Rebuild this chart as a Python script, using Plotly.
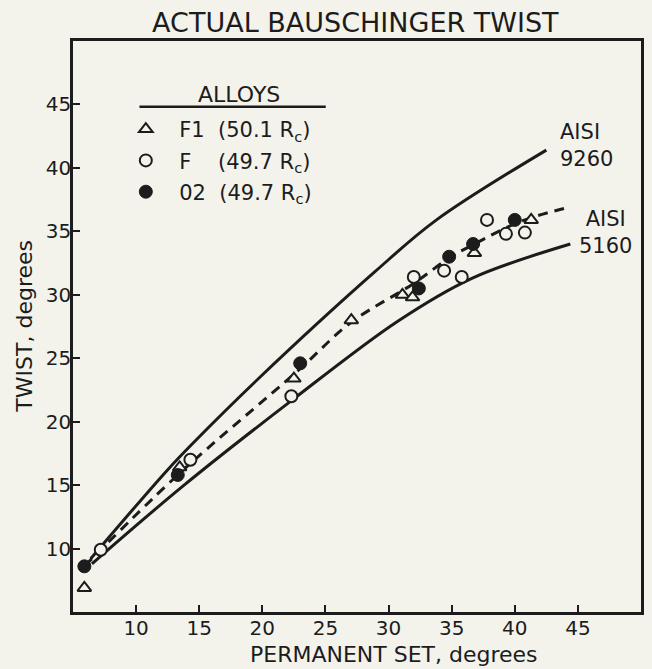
import plotly.graph_objects as go

# alloy test points (permanent set, twist in degrees)
f1_set = [5.9, 13.45, 22.5, 27.05, 31.1, 31.9, 36.8, 41.3]
f1_twist = [6.9, 16.4, 23.4, 28.0, 30.0, 29.8, 33.3, 35.9]

f_set = [7.2, 14.3, 22.3, 32.0, 34.4, 35.8, 37.8, 39.3, 40.8]
f_twist = [9.9, 17.0, 22.0, 31.4, 31.9, 31.4, 35.9, 34.8, 34.9]

o2_set = [5.9, 13.3, 23.0, 32.4, 34.8, 36.7, 40.0]
o2_twist = [8.6, 15.8, 24.6, 30.5, 33.0, 34.0, 35.9]

# reference curves
aisi9260_set = [6.4, 12.4, 14.4, 19.7, 28.9, 33.8, 42.5]
aisi9260_twist = [9.2, 16.1, 18.2, 23.4, 31.8, 35.9, 41.4]

aisi5160_set = [6.5, 13.8, 22.1, 30.7, 36.6, 44.4]
aisi5160_twist = [8.8, 15.0, 21.5, 27.9, 31.3, 34.0]

# dashed fit through the alloy data
fit_set = [5.9, 13.3, 22.8, 27.0, 32.0, 34.8, 36.8, 40.5, 43.9]
fit_twist = [8.6, 15.8, 24.0, 27.8, 30.9, 32.9, 34.0, 35.8, 36.8]

ticks = [10, 15, 20, 25, 30, 35, 40, 45]

BG = "#f3f3ec"
INK = "#1c1c1c"
FONT = "DejaVu Sans"
SP = "&nbsp;"

fig = go.Figure()

fig.add_trace(go.Scatter(x=aisi9260_set, y=aisi9260_twist, mode="lines",
                         line=dict(color=INK, width=3, shape="spline"),
                         showlegend=False, hoverinfo="skip"))
fig.add_trace(go.Scatter(x=aisi5160_set, y=aisi5160_twist, mode="lines",
                         line=dict(color=INK, width=3, shape="spline"),
                         showlegend=False, hoverinfo="skip"))
fig.add_trace(go.Scatter(x=fit_set, y=fit_twist, mode="lines",
                         line=dict(color=INK, width=3, shape="spline", dash="10px,7px"),
                         showlegend=False, hoverinfo="skip"))

# markers (open ones filled with the background so they sit on top of the lines)
fig.add_trace(go.Scatter(x=f1_set, y=f1_twist, mode="markers", legendgroup="f1",
                         name=SP * 2 + "F1" + SP * 2 + "(50.1 R<sub>c</sub>)",
                         marker=dict(symbol="triangle-up", size=12, color=BG,
                                     line=dict(color=INK, width=2))))
fig.add_trace(go.Scatter(x=f_set, y=f_twist, mode="markers", legendgroup="f",
                         name=SP * 2 + "F" + SP * 4 + "(49.7 R<sub>c</sub>)",
                         marker=dict(symbol="circle", size=12, color=BG,
                                     line=dict(color=INK, width=2))))
fig.add_trace(go.Scatter(x=o2_set, y=o2_twist, mode="markers", legendgroup="o2",
                         name=SP * 2 + "02" + SP * 2 + "(49.7 R<sub>c</sub>)",
                         marker=dict(symbol="circle", size=13, color=INK,
                                     line=dict(color=INK, width=1))))

axis_common = dict(
    range=[5, 50], tickvals=ticks, ticks="inside", ticklen=7, tickwidth=2,
    tickcolor=INK, showline=True, linecolor=INK, linewidth=2.5, mirror=True,
    showgrid=False, zeroline=False,
    tickfont=dict(family=FONT, size=20, color=INK),
)

fig.update_layout(
    width=652, height=669,
    margin=dict(l=73, r=8, t=41, b=57),
    paper_bgcolor=BG, plot_bgcolor=BG,
    font=dict(family=FONT, color=INK),
    title=dict(text="ACTUAL BAUSCHINGER TWIST", x=0.545, y=0.966,
               xanchor="center", yanchor="middle",
               font=dict(family=FONT, size=27, color=INK)),
    xaxis=dict(axis_common, ticklabelstandoff=-4),
    yaxis=dict(axis_common, ticklabelstandoff=-5),
    legend=dict(x=0.093, y=0.881, xanchor="left", yanchor="top",
                bgcolor="rgba(0,0,0,0)", font=dict(family=FONT, size=21, color=INK),
                tracegroupgap=1),
    showlegend=True,
)

# legend heading and its underline
fig.add_annotation(xref="paper", yref="paper", x=(240 - 73) / 571, y=(612 - 94) / 571,
                   text="ALLOYS", showarrow=False, xanchor="center", yanchor="middle",
                   font=dict(family=FONT, size=22, color=INK))
fig.add_shape(type="line", xref="paper", yref="paper",
              x0=0.117, x1=0.445, y0=0.885, y1=0.885,
              line=dict(color=INK, width=2.5))

fig.add_annotation(x=43.4, y=41.8, text="AISI<br>9260", showarrow=False,
                   xanchor="left", yanchor="middle", align="left",
                   font=dict(family=FONT, size=21, color=INK))
fig.add_annotation(x=47.2, y=34.9, text="AISI<br>5160", showarrow=False,
                   xanchor="center", yanchor="middle", align="center",
                   font=dict(family=FONT, size=21, color=INK))

fig.add_annotation(xref="paper", yref="paper", x=0.566, y=-0.075,
                   text="PERMANENT SET, degrees", showarrow=False,
                   xanchor="center", yanchor="middle",
                   font=dict(family=FONT, size=22, color=INK))
fig.add_annotation(xref="paper", yref="paper", x=-0.086, y=0.5,
                   text="TWIST, degrees", showarrow=False, textangle=-90,
                   xanchor="center", yanchor="middle",
                   font=dict(family=FONT, size=22, color=INK))

# drop the default page margin so the figure fills the window
fig.write_html("out.html", config={"displayModeBar": False},
               post_script="document.body.style.margin='0';"
                           "document.body.style.background='%s';" % BG)
